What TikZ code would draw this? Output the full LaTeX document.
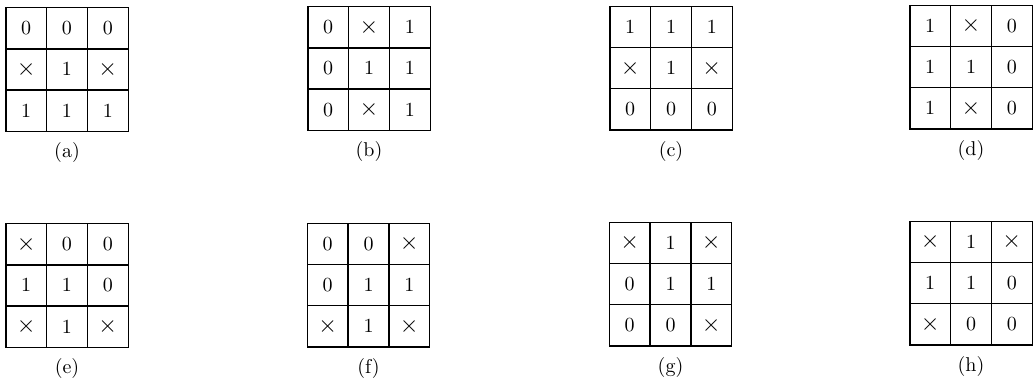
\documentclass[tikz,border=0pt]{standalone}
\usepackage{amsmath}
\usetikzlibrary{matrix, positioning}

\newcommand{\dc}{\text{\large$\times$}}

\tikzset{
  cell/.style={draw, line width=0.7pt, minimum width=20.4pt, minimum height=20.6pt, inner sep=0pt, anchor=center},
  grid/.style={matrix of math nodes, nodes={cell}, column sep=-0.7pt, row sep=-0.7pt, inner sep=0pt},
  caption/.style={inner sep=0pt}
}

\begin{document}
\begin{tikzpicture}[x=0.5pt, y=-0.5pt, node distance=5pt]
  \useasboundingbox (0,0) rectangle (1034,377);

  % top row
  \matrix (ga) [grid] at (67,69.5) {
    0 & 0 & 0 \\
    \dc & 1 & \dc \\
    1 & 1 & 1 \\
  };
  \node[caption, below=of ga] (la) {(a)};

  \matrix (gb) [grid] at (369,68.5) {
    0 & \dc & 1 \\
    0 & 1 & 1 \\
    0 & \dc & 1 \\
  };
  \node[caption, below=of gb] (lb) {(b)};

  \matrix (gc) [grid] at (671,68) {
    1 & 1 & 1 \\
    \dc & 1 & \dc \\
    0 & 0 & 0 \\
  };
  \node[caption, below=of gc] (lc) {(c)};

  \matrix (gd) [grid] at (971,67) {
    1 & \dc & 0 \\
    1 & 1 & 0 \\
    1 & \dc & 0 \\
  };
  \node[caption, below=of gd] (ld) {(d)};

  % bottom row
  \matrix (ge) [grid] at (67,285.5) {
    \dc & 0 & 0 \\
    1 & 1 & 0 \\
    \dc & 1 & \dc \\
  };
  \node[caption, below=of ge] (le) {(e)};

  \matrix (gf) [grid] at (368.5,285) {
    0 & 0 & \dc \\
    0 & 1 & 1 \\
    \dc & 1 & \dc \\
  };
  \node[caption, below=of gf] (lf) {(f)};

  \matrix (gg) [grid] at (670.5,284) {
    \dc & 1 & \dc \\
    0 & 1 & 1 \\
    0 & 0 & \dc \\
  };
  \node[caption, below=of gg] (lg) {(g)};

  \matrix (gh) [grid] at (971,283) {
    \dc & 1 & \dc \\
    1 & 1 & 0 \\
    \dc & 0 & 0 \\
  };
  \node[caption, below=of gh] (lh) {(h)};
\end{tikzpicture}
\end{document}
